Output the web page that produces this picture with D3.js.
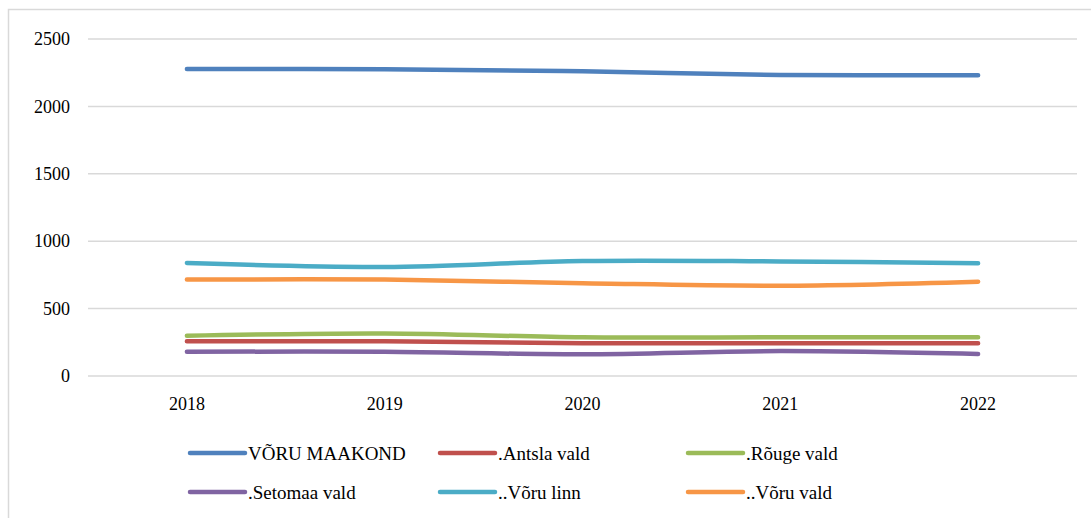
<!DOCTYPE html>
<html>
<head>
<meta charset="utf-8">
<script src="https://cdn.jsdelivr.net/npm/d3@7"></script>
<style>
  body { margin: 0; background: #fff; }
  svg text { fill: #000; }
</style>
</head>
<body>
<script>
const years = ["2018", "2019", "2020", "2021", "2022"];
const seriesNames = ["VÕRU MAAKOND", ".Antsla vald", ".Rõuge vald", ".Setomaa vald", "..Võru linn", "..Võru vald"];
const voruMaakond = [2277, 2275, 2260, 2233, 2232];
const antslaVald = [257, 257, 243, 243, 243];
const rougeVald = [299, 316, 287, 287, 287];
const setomaaVald = [180, 180, 161, 185, 163];
const voruLinn = [838, 809, 853, 850, 837];
const voruVald = [715, 715, 688, 670, 700];
const yTicks = [0, 500, 1000, 1500, 2000, 2500];
const colors = ["#4F81BD", "#C0504D", "#9BBB59", "#8064A2", "#4BACC6", "#F79646"];

const values = [voruMaakond, antslaVald, rougeVald, setomaaVald, voruLinn, voruVald];
const serif = "Liberation Serif, Times New Roman, serif";

const W = 1091, H = 518;
const svg = d3.select("body").append("svg")
    .attr("width", W)
    .attr("height", H);

// chart border
svg.append("rect")
    .attr("x", 8.5).attr("y", 9.5)
    .attr("width", W + 10).attr("height", H + 10)
    .attr("fill", "none")
    .attr("stroke", "#d9d9d9")
    .attr("stroke-width", 1.5);

const plot = { left: 88, right: 1077, top: 39, bottom: 376 };

const x = d3.scaleBand()
    .domain(years)
    .range([plot.left, plot.right]);

const y = d3.scaleLinear()
    .domain([0, 2500])
    .range([plot.bottom, plot.top]);

// gridlines
svg.append("g")
    .selectAll("line")
    .data(yTicks)
    .join("line")
    .attr("x1", plot.left).attr("x2", plot.right)
    .attr("y1", d => y(d)).attr("y2", d => y(d))
    .attr("stroke", "#d9d9d9")
    .attr("stroke-width", 1.5);

const yAxis = d3.axisLeft(y).tickValues(yTicks).tickFormat(d3.format("d")).tickSize(0).tickPadding(18);
svg.append("g")
    .attr("transform", `translate(${plot.left},0)`)
    .call(yAxis)
    .attr("font-family", serif)
    .attr("font-size", 18)
    .call(g => g.select(".domain").remove());

const xAxis = d3.axisBottom(x).tickSize(0).tickPadding(21);
svg.append("g")
    .attr("transform", `translate(0,${plot.bottom})`)
    .call(xAxis)
    .attr("font-family", serif)
    .attr("font-size", 18)
    .call(g => g.select(".domain").remove());

const line = d3.line()
    .x((d, i) => x(years[i]) + x.bandwidth() / 2)
    .y(d => y(d))
    .curve(d3.curveCatmullRom.alpha(0.5));

svg.append("g")
    .selectAll("path")
    .data(values)
    .join("path")
    .attr("d", d => line(d))
    .attr("fill", "none")
    .attr("stroke", (d, i) => colors[i])
    .attr("stroke-width", 4.5)
    .attr("stroke-linecap", "round");

// legend
const legendCols = [190, 440, 688];
const legendRows = [453, 492];
const legend = svg.append("g")
    .attr("font-family", serif)
    .attr("font-size", 19);
seriesNames.forEach((name, i) => {
    const cx = legendCols[i % 3];
    const cy = legendRows[Math.floor(i / 3)];
    legend.append("line")
        .attr("x1", cx).attr("x2", cx + 55)
        .attr("y1", cy).attr("y2", cy)
        .attr("stroke", colors[i])
        .attr("stroke-width", 4.5)
        .attr("stroke-linecap", "round");
    legend.append("text")
        .attr("x", cx + 58)
        .attr("y", cy + 7)
        .text(name);
});
</script>
</body>
</html>
